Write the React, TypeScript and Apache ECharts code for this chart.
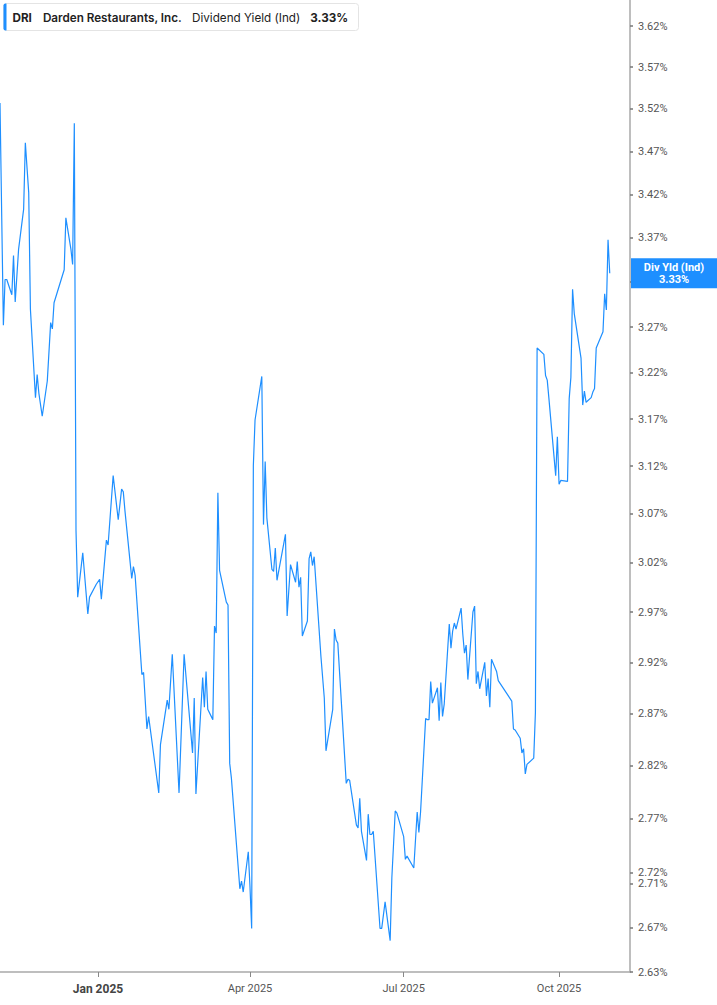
import React, { useEffect, useRef } from 'react';
import * as echarts from 'echarts';

const BLUE = '#1e8fff';

const ticker = 'DRI';
const company = 'Darden Restaurants, Inc.';
const metric = 'Dividend Yield (Ind)';
const lastLabel = 'Div Yld (Ind)';
const lastValue = 3.33;

// axis layout (log scale on the right)
const yRange = [2.63, 3.652];
const yTicks = [
  2.63, 2.67, 2.71, 2.72, 2.77, 2.82, 2.87, 2.92, 2.97, 3.02, 3.07,
  3.12, 3.17, 3.22, 3.27, 3.32, 3.37, 3.42, 3.47, 3.52, 3.57, 3.62,
];
const xRange = ['2024-11-04', '2025-11-12'];
const xTicks = ['2025-01-01', '2025-04-01', '2025-07-01', '2025-10-01'];
const MONTHS = ['Jan', 'Feb', 'Mar', 'Apr', 'May', 'Jun', 'Jul', 'Aug', 'Sep', 'Oct', 'Nov', 'Dec'];

// dividend yield (%), by period
const late2024: [string, number][] = [
  ['2024-11-04', 3.527], ['2024-11-06', 3.272], ['2024-11-07', 3.323], ['2024-11-08', 3.323],
  ['2024-11-11', 3.306], ['2024-11-12', 3.35], ['2024-11-13', 3.298], ['2024-11-15', 3.357],
  ['2024-11-18', 3.403], ['2024-11-19', 3.48], ['2024-11-21', 3.422], ['2024-11-22', 3.29],
  ['2024-11-25', 3.193], ['2024-11-26', 3.218], ['2024-11-27', 3.198], ['2024-11-29', 3.173],
  ['2024-12-02', 3.211], ['2024-12-04', 3.275], ['2024-12-05', 3.268], ['2024-12-06', 3.297],
  ['2024-12-12', 3.334], ['2024-12-13', 3.393], ['2024-12-16', 3.357], ['2024-12-17', 3.34],
  ['2024-12-18', 3.503], ['2024-12-19', 3.053], ['2024-12-20', 2.985], ['2024-12-23', 3.03],
  ['2024-12-26', 2.968], ['2024-12-27', 2.985], ['2024-12-31', 2.998],
];

const q1_2025: [string, number][] = [
  ['2025-01-02', 3.003], ['2025-01-03', 2.983], ['2025-01-06', 3.043], ['2025-01-07', 3.038],
  ['2025-01-10', 3.11], ['2025-01-13', 3.064], ['2025-01-15', 3.096], ['2025-01-16', 3.093],
  ['2025-01-17', 3.073], ['2025-01-21', 3.004], ['2025-01-22', 3.016], ['2025-01-23', 3.007],
  ['2025-01-27', 2.908], ['2025-01-28', 2.91], ['2025-01-30', 2.855], ['2025-01-31', 2.867],
  ['2025-02-06', 2.794], ['2025-02-07', 2.84], ['2025-02-11', 2.883], ['2025-02-12', 2.874],
  ['2025-02-14', 2.928], ['2025-02-18', 2.794], ['2025-02-21', 2.928], ['2025-02-26', 2.832],
  ['2025-02-27', 2.885], ['2025-02-28', 2.793], ['2025-03-04', 2.905], ['2025-03-05', 2.876],
  ['2025-03-06', 2.911], ['2025-03-07', 2.874], ['2025-03-10', 2.864], ['2025-03-11', 2.956],
  ['2025-03-12', 2.949], ['2025-03-13', 3.092], ['2025-03-14', 3.012], ['2025-03-18', 2.98],
  ['2025-03-19', 2.977], ['2025-03-20', 2.822], ['2025-03-21', 2.808], ['2025-03-26', 2.705],
  ['2025-03-27', 2.712], ['2025-03-28', 2.702], ['2025-03-31', 2.739],
];

const q2_2025: [string, number][] = [
  ['2025-04-01', 2.707], ['2025-04-02', 2.669], ['2025-04-03', 3.121], ['2025-04-04', 3.169],
  ['2025-04-08', 3.216], ['2025-04-09', 3.059], ['2025-04-10', 3.125], ['2025-04-11', 3.066],
  ['2025-04-14', 3.013], ['2025-04-15', 3.011], ['2025-04-16', 3.035], ['2025-04-17', 3.002],
  ['2025-04-22', 3.049], ['2025-04-23', 2.966], ['2025-04-25', 3.018], ['2025-04-28', 3.0],
  ['2025-04-29', 3.021], ['2025-04-30', 2.995], ['2025-05-01', 3.005], ['2025-05-02', 2.946],
  ['2025-05-05', 2.961], ['2025-05-06', 3.024], ['2025-05-07', 3.031], ['2025-05-08', 3.017],
  ['2025-05-09', 3.026], ['2025-05-13', 2.926], ['2025-05-15', 2.885], ['2025-05-16', 2.834],
  ['2025-05-20', 2.874], ['2025-05-21', 2.953], ['2025-05-22', 2.942], ['2025-05-23', 2.939],
  ['2025-05-28', 2.803], ['2025-05-29', 2.807], ['2025-05-30', 2.806], ['2025-06-03', 2.764],
  ['2025-06-04', 2.761], ['2025-06-05', 2.789], ['2025-06-06', 2.758], ['2025-06-09', 2.731],
  ['2025-06-10', 2.774], ['2025-06-11', 2.755], ['2025-06-12', 2.755], ['2025-06-13', 2.758],
  ['2025-06-17', 2.669], ['2025-06-18', 2.669], ['2025-06-20', 2.693], ['2025-06-23', 2.658],
  ['2025-06-24', 2.715], ['2025-06-26', 2.777], ['2025-06-27', 2.775],
];

const q3_2025: [string, number][] = [
  ['2025-07-01', 2.753], ['2025-07-02', 2.732], ['2025-07-03', 2.735], ['2025-07-07', 2.724],
  ['2025-07-09', 2.776], ['2025-07-10', 2.757], ['2025-07-11', 2.776], ['2025-07-14', 2.865],
  ['2025-07-15', 2.864], ['2025-07-16', 2.864], ['2025-07-17', 2.901], ['2025-07-18', 2.88],
  ['2025-07-21', 2.895], ['2025-07-22', 2.863], ['2025-07-23', 2.9], ['2025-07-24', 2.867],
  ['2025-07-25', 2.879], ['2025-07-28', 2.958], ['2025-07-29', 2.934], ['2025-07-30', 2.951],
  ['2025-07-31', 2.959], ['2025-08-01', 2.953], ['2025-08-04', 2.974], ['2025-08-05', 2.948],
  ['2025-08-06', 2.929], ['2025-08-07', 2.937], ['2025-08-08', 2.903], ['2025-08-11', 2.97],
  ['2025-08-12', 2.976], ['2025-08-13', 2.899], ['2025-08-14', 2.911], ['2025-08-15', 2.894],
  ['2025-08-18', 2.92], ['2025-08-19', 2.887], ['2025-08-20', 2.904], ['2025-08-21', 2.876],
  ['2025-08-22', 2.923], ['2025-08-25', 2.911], ['2025-08-26', 2.902], ['2025-09-03', 2.882],
  ['2025-09-04', 2.855], ['2025-09-05', 2.854], ['2025-09-08', 2.846], ['2025-09-09', 2.832],
  ['2025-09-10', 2.836], ['2025-09-11', 2.812], ['2025-09-12', 2.821], ['2025-09-16', 2.827],
  ['2025-09-17', 2.871], ['2025-09-18', 3.247], ['2025-09-22', 3.24], ['2025-09-23', 3.217],
  ['2025-09-24', 3.212], ['2025-09-25', 3.192], ['2025-09-29', 3.11], ['2025-09-30', 3.151],
];

const q4_2025: [string, number][] = [
  ['2025-10-01', 3.101], ['2025-10-02', 3.105], ['2025-10-06', 3.104], ['2025-10-07', 3.192],
  ['2025-10-08', 3.215], ['2025-10-09', 3.312], ['2025-10-10', 3.285], ['2025-10-14', 3.236],
  ['2025-10-15', 3.185], ['2025-10-16', 3.2], ['2025-10-17', 3.188], ['2025-10-20', 3.193],
  ['2025-10-21', 3.199], ['2025-10-22', 3.203], ['2025-10-23', 3.247], ['2025-10-27', 3.265],
  ['2025-10-28', 3.307], ['2025-10-29', 3.289], ['2025-10-30', 3.368], ['2025-10-31', 3.33],
];

// local midnight timestamp for a YYYY-MM-DD string
const ts = (d: string) => new Date(d + 'T00:00:00').getTime();

const App: React.FC = () => {
  const chartRef = useRef<HTMLDivElement>(null);

  useEffect(() => {
    if (!chartRef.current) return;
    const chart = echarts.init(chartRef.current, undefined, { renderer: 'svg' });

    const all = [...late2024, ...q1_2025, ...q2_2025, ...q3_2025, ...q4_2025];
    // log scale: plot ln(yield) on a value axis
    const seriesData = all.map(([d, v]) => [ts(d), Math.log(v)]);
    const xTickValues = xTicks.map(ts);
    const yTickValues = yTicks.map(Math.log);

    const legendFont = { fontFamily: 'Inter, sans-serif', fontSize: 11.7, fill: '#222' };

    const option: echarts.EChartsOption = {
      animation: false,
      backgroundColor: '#fff',
      grid: { left: 0, right: 87, top: 0, bottom: 33, containLabel: false },
      xAxis: {
        type: 'value',
        min: ts(xRange[0]),
        max: ts(xRange[1]),
        axisLine: { show: true, onZero: false, lineStyle: { color: '#a8a8a8', width: 1.5 } },
        axisTick: { show: true, length: 5, customValues: xTickValues, lineStyle: { color: '#888' } },
        splitLine: { show: false },
        axisLabel: {
          customValues: xTickValues,
          margin: 11,
          color: '#555',
          fontSize: 11,
          fontFamily: 'Roboto, sans-serif',
          formatter: (v: number) => {
            const d = new Date(v);
            const s = `${MONTHS[d.getMonth()]} ${d.getFullYear()}`;
            return d.getMonth() === 0 ? `{b|${s}}` : s;
          },
          rich: { b: { fontWeight: 'bold', fontSize: 12, color: '#444', fontFamily: 'Roboto, sans-serif' } },
        },
      },
      yAxis: {
        type: 'value',
        position: 'right',
        min: Math.log(yRange[0]),
        max: Math.log(yRange[1]),
        axisLine: { show: true, onZero: false, lineStyle: { color: '#a8a8a8', width: 1.5 } },
        axisTick: {
          show: true,
          length: 3,
          customValues: yTickValues,
          lineStyle: { color: '#777', width: 1.5 },
        },
        splitLine: { show: false },
        axisLabel: {
          customValues: yTickValues,
          margin: 8,
          color: '#555',
          fontSize: 11,
          fontFamily: 'Roboto, sans-serif',
          formatter: (v: number) => Math.exp(v).toFixed(2) + '%',
        },
      },
      graphic: [
        {
          type: 'group',
          left: 3,
          top: 3,
          children: [
            {
              type: 'rect',
              shape: { x: 0, y: 0, width: 355, height: 27, r: 3 },
              style: { fill: '#fff', stroke: '#e4e4e4', lineWidth: 1 },
            },
            {
              type: 'rect',
              shape: { x: 0, y: 0, width: 3, height: 27, r: [2, 0, 0, 2] },
              style: { fill: BLUE },
            },
            {
              type: 'text',
              x: 9,
              y: 14,
              style: {
                text: `{t|${ticker}}{n|${company}}{d|${metric}}{v|${lastValue.toFixed(2)}%}`,
                verticalAlign: 'middle',
                rich: {
                  t: { ...legendFont, fontWeight: 'bold', padding: [0, 11, 0, 0] },
                  n: { ...legendFont, fontWeight: 600, padding: [0, 10, 0, 0] },
                  d: { ...legendFont, fontWeight: 'normal', padding: [0, 10, 0, 0] },
                  v: { ...legendFont, fontWeight: 'bold' },
                },
              },
            },
          ],
        },
      ],
      series: [
        {
          type: 'line',
          name: metric,
          data: seriesData,
          showSymbol: false,
          symbol: 'none',
          lineStyle: { color: BLUE, width: 1.2 },
          itemStyle: { color: BLUE },
          z: 3,
          // last-value tag sitting on the right axis
          markPoint: {
            silent: true,
            symbol: 'rect',
            symbolSize: [86, 30],
            symbolOffset: [44, 0],
            itemStyle: { color: BLUE },
            label: {
              show: true,
              position: 'inside',
              color: '#fff',
              fontWeight: 'bold',
              fontSize: 11,
              lineHeight: 12,
              fontFamily: 'Roboto, sans-serif',
              formatter: () => `${lastLabel}\n${lastValue.toFixed(2)}%`,
            },
            data: [{ coord: [ts(xRange[1]), Math.log(lastValue)] }],
          },
        },
      ],
    };

    chart.setOption(option);
    return () => chart.dispose();
  }, []);

  return (
    <div
      ref={chartRef}
      style={{ position: 'fixed', left: 0, top: 0, width: '717px', height: '1005px', background: '#fff' }}
    />
  );
};

export default App;
